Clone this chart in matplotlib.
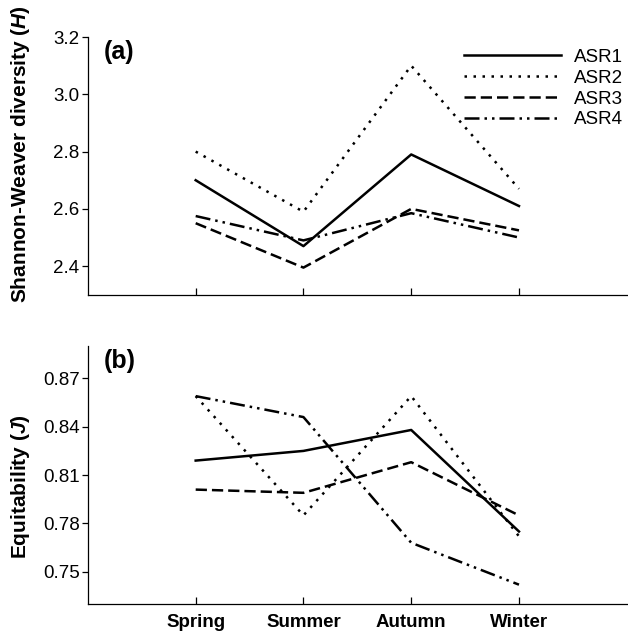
import matplotlib.pyplot as plt

plt.rcParams['font.family'] = ['Liberation Sans', 'DejaVu Sans']
plt.rcParams['mathtext.fontset'] = 'custom'
plt.rcParams['mathtext.bfit'] = 'Liberation Sans:italic:bold'
plt.rcParams['mathtext.bf'] = 'Liberation Sans:bold'

seasons = ['Spring', 'Summer', 'Autumn', 'Winter']
series = ['ASR1', 'ASR2', 'ASR3', 'ASR4']

# Shannon-Weaver diversity (H)
h_asr1 = [2.70, 2.47, 2.79, 2.61]
h_asr2 = [2.80, 2.59, 3.10, 2.67]
h_asr3 = [2.55, 2.395, 2.60, 2.525]
h_asr4 = [2.575, 2.49, 2.585, 2.50]

# Equitability (J)
j_asr1 = [0.819, 0.825, 0.838, 0.775]
j_asr2 = [0.859, 0.785, 0.859, 0.772]
j_asr3 = [0.801, 0.799, 0.818, 0.785]
j_asr4 = [0.859, 0.846, 0.768, 0.742]

styles = ['-', (0, (1, 2.6)), (0, (4.5, 2)), (0, (6, 2, 1, 2, 1, 2))]

fig = plt.figure(figsize=(6.28, 6.34), dpi=100)
ax1 = fig.add_axes([0.140, 0.535, 0.858, 0.4066])
ax2 = fig.add_axes([0.140, 0.0473, 0.858, 0.4067])

x = list(range(1, len(seasons) + 1))

for vals, ls, name in zip([h_asr1, h_asr2, h_asr3, h_asr4], styles, series):
    ax1.plot(x, vals, color='black', linestyle=ls, linewidth=1.8, label=name)
for vals, ls, name in zip([j_asr1, j_asr2, j_asr3, j_asr4], styles, series):
    ax2.plot(x, vals, color='black', linestyle=ls, linewidth=1.8, label=name)

for ax in (ax1, ax2):
    ax.set_xlim(0, 5)
    ax.set_xticks(x)
    ax.spines['top'].set_visible(False)
    ax.spines['right'].set_visible(False)
    ax.spines['left'].set_linewidth(0.9)
    ax.spines['bottom'].set_linewidth(0.9)
    ax.tick_params(axis='x', direction='in', length=5, width=0.9)
    ax.tick_params(axis='y', direction='out', length=4, width=0.9,
                   labelsize=13.5, pad=2)

ax1.set_ylim(2.3, 3.2)
ax1.set_yticks([2.4, 2.6, 2.8, 3.0, 3.2])
ax1.set_yticklabels(['2.4', '2.6', '2.8', '3.0', '3.2'])
ax1.set_xticklabels([])
ax1.set_ylabel(r'Shannon-Weaver diversity ($\mathbfit{H}$)', fontsize=15,
               fontweight='bold')
ax1.yaxis.set_label_coords(-0.104, 0.548)
ax1.text(0.03, 0.99, '(a)', transform=ax1.transAxes, fontsize=18,
         fontweight='bold', va='top', ha='left')
ax1.legend(loc='upper right', bbox_to_anchor=(1.025, 1.02), frameon=False,
           fontsize=13.5, handlelength=5.2, labelspacing=0.2, handletextpad=0.7)

ax2.set_ylim(0.73, 0.89)
ax2.set_yticks([0.75, 0.78, 0.81, 0.84, 0.87])
ax2.set_xticklabels(seasons, fontsize=13.5, fontweight='bold')
ax2.tick_params(axis='x', pad=7)
ax2.set_ylabel(r'Equitability ($\mathbfit{J}$)', fontsize=15,
               fontweight='bold')
ax2.yaxis.set_label_coords(-0.104, 0.455)
ax2.text(0.03, 0.99, '(b)', transform=ax2.transAxes, fontsize=18,
         fontweight='bold', va='top', ha='left')

fig.savefig('out.png', dpi=100)
